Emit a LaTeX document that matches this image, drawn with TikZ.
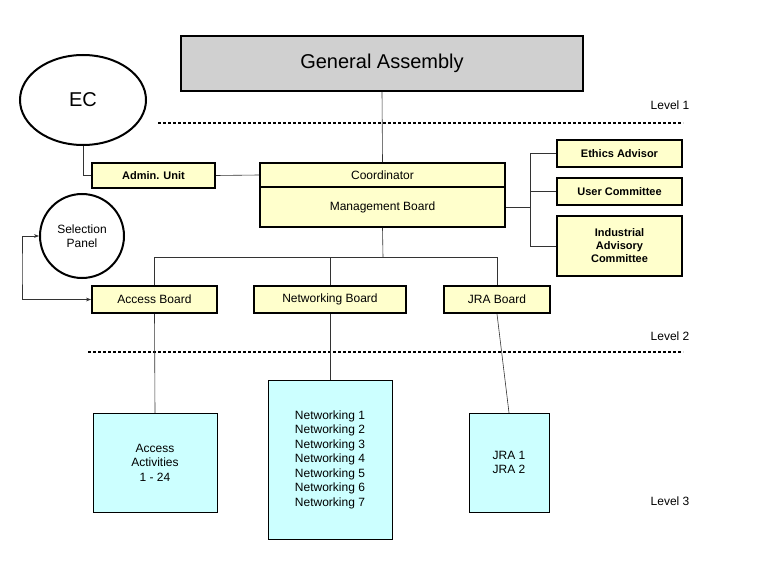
\documentclass[tikz,border=0pt]{standalone}
\usepackage{fontspec}
\setmainfont{Liberation Sans}
\usetikzlibrary{arrows.meta,shapes.geometric}
\definecolor{ylw}{HTML}{FFFFCC}
\definecolor{cyn}{HTML}{CCFFFF}
\definecolor{gry}{HTML}{D0D0D0}
\tikzset{
 px/.style={x=1pt,y=-1pt},
 ybox/.style={draw,line width=2pt,fill=ylw,font=\fontsize{12}{14}\selectfont},
 bbox/.style={ybox,font=\bfseries\fontsize{11}{13}\selectfont},
 cbox/.style={draw,fill=cyn,font=\fontsize{12}{14.5}\selectfont,align=center},
 conn/.style={draw,gray!40!black,line width=0.6pt},
 lvl/.style={font=\fontsize{12}{14}\selectfont},
 dots/.style={line width=2.5pt,dash pattern=on 2.5pt off 2.5pt},
}
\newcommand{\rbox}[6]{\node[#1,minimum width=#4pt-#2pt,minimum height=#5pt-#3pt,inner sep=0pt] (#6) at ({(#2+#4)/2},{(#3+#5)/2})}
\begin{document}
\begin{tikzpicture}[px]
\useasboundingbox (0,0) rectangle (768,575);
\rbox{draw,line width=2pt,fill=gry,font=\fontsize{20}{24}\selectfont}{181}{36}{583}{91}{ga} {General Assembly};
\node[draw,line width=2pt,ellipse,minimum width=126pt,minimum height=90pt,font=\fontsize{20}{24}\selectfont] (ec) at (83,100) {EC};
\node[lvl] (l1) at (670,105) {Level 1};
\draw[dots] (158,123) -- (683,123);
\rbox{ybox}{260}{163}{505}{187}{co} {Coordinator};
\rbox{ybox}{260}{187}{505}{227}{mb} {Management Board};
\rbox{bbox}{92}{163}{215}{188}{au} {Admin. Unit};
\rbox{bbox}{557}{140}{682}{167}{ea} {Ethics Advisor};
\rbox{bbox}{557}{178}{682}{205}{uc} {User Committee};
\rbox{bbox,align=center}{557}{216}{682}{276}{iac} {Industrial\\Advisory\\Committee};
\node[draw,line width=2pt,circle,minimum size=84pt,inner sep=0pt,align=center,font=\fontsize{12}{14.5}\selectfont] (sp) at (82,236) {Selection\\Panel};
\rbox{ybox}{92}{286}{217}{313}{ab} {Access Board};
\rbox{ybox}{254}{286}{406}{313}{nb} {Networking Board};
\rbox{ybox}{444}{286}{550}{313}{jb} {JRA Board};
\node[lvl] (l2) at (670,336) {Level 2};
\draw[dots] (88,352) -- (683,352);
\rbox{cbox}{93}{413}{217}{512}{aa} {Access\\Activities\\1 - 24};
\rbox{cbox}{268}{380}{392}{539}{nw} {Networking 1\\Networking 2\\Networking 3\\Networking 4\\Networking 5\\Networking 6\\Networking 7};
\rbox{cbox}{469}{413}{549}{512}{jr} {JRA 1\\JRA 2};
\node[lvl] (l3) at (670,501) {Level 3};
% connectors
\draw[conn] (ga.south) -- (co.north);
\draw[conn] (ec.south) |- (au.west);
\draw[conn] (au.east) -- (co.west);
\draw[conn] (mb.east) -- (530,207) coordinate (br);
\draw[conn] (br) |- (ea.west);
\draw[conn] (br) |- (uc.west);
\draw[conn] (br) |- (iac.west);
\coordinate (tj) at (383,257);
\draw[conn] (mb.south) -- (tj);
\draw[conn] (tj) -| (ab.north);
\draw[conn] (tj) -| (nb.north);
\draw[conn] (tj) -| (jb.north);
\draw[conn] (ab.south) -- (aa.north);
\draw[conn] (nb.south) -- (nw.north);
\draw[conn] (jb.south) -- (jr.north);
\coordinate (sl) at (22,270);
\draw[conn,{Stealth[length=5pt]}-{Stealth[length=5pt]}] (sp.west) -| (sl) |- (ab.west);
\end{tikzpicture}
\end{document}
